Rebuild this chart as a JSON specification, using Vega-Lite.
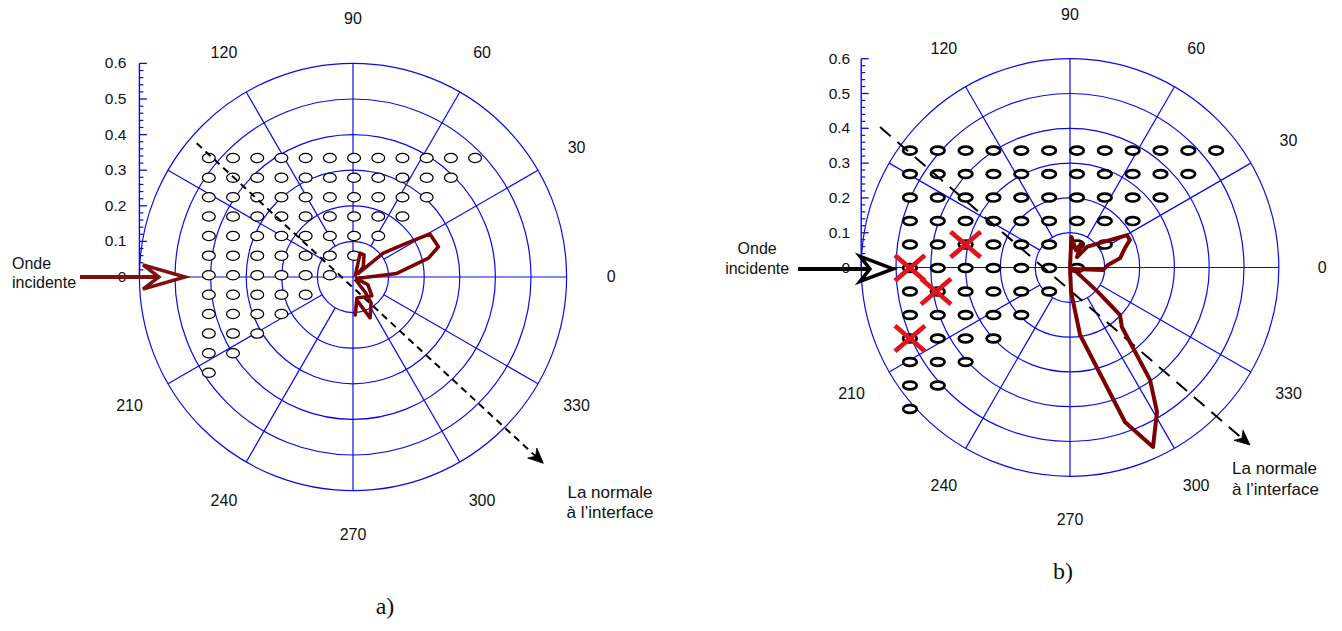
{
  "$schema": "https://vega.github.io/schema/vega-lite/v6.json",
  "padding": 0,
  "spacing": 0,
  "config": {"view": {"stroke": null}},
  "resolve": {"scale": {"radius": "independent"}},
  "hconcat": [
    {
      "width": 671,
      "height": 631,
      "encoding": {
        "x": {"field": "x", "type": "quantitative", "scale": {"domain": [-0.9916, 0.8933], "nice": false, "zero": false}, "axis": null},
        "y": {"field": "y", "type": "quantitative", "scale": {"domain": [-0.9944, 0.7781], "nice": false, "zero": false}, "axis": null}
      },
      "layer": [
        {
          "data": {"values": [{"x": 0, "y": 0, "r": 0.1}, {"x": 0, "y": 0, "r": 0.2}, {"x": 0, "y": 0, "r": 0.3}, {"x": 0, "y": 0, "r": 0.4}, {"x": 0, "y": 0, "r": 0.5}, {"x": 0, "y": 0, "r": 0.6}]},
          "mark": {"type": "arc", "theta": 0, "theta2": 6.2832, "filled": false, "color": "#0a0ae6", "strokeWidth": 1.2},
          "encoding": {"radius": {"field": "r", "type": "quantitative", "stack": null, "scale": {"type": "linear", "domain": [0, 1], "range": [0, 356], "zero": true}}}
        },
        {
          "data": {"values": [
            {"x": -0.6, "y": 0, "x2": 0.6, "y2": 0},
            {"x": 0, "y": -0.6, "x2": 0, "y2": 0.6},
            {"x": 0.0866, "y": 0.05, "x2": 0.5196, "y2": 0.3},
            {"x": 0.05, "y": 0.0866, "x2": 0.3, "y2": 0.5196},
            {"x": -0.05, "y": 0.0866, "x2": -0.3, "y2": 0.5196},
            {"x": -0.0866, "y": 0.05, "x2": -0.5196, "y2": 0.3},
            {"x": -0.0866, "y": -0.05, "x2": -0.5196, "y2": -0.3},
            {"x": -0.05, "y": -0.0866, "x2": -0.3, "y2": -0.5196},
            {"x": 0.05, "y": -0.0866, "x2": 0.3, "y2": -0.5196},
            {"x": 0.0866, "y": -0.05, "x2": 0.5196, "y2": -0.3}
          ]},
          "mark": {"type": "rule", "color": "#0a0ae6", "strokeWidth": 1.2},
          "encoding": {"x2": {"field": "x2"}, "y2": {"field": "y2"}}
        },
        {
          "data": {"values": [{"x": -0.6, "y": 0, "y2": 0.6}]},
          "mark": {"type": "rule", "color": "#0a0ae6", "strokeWidth": 1.4},
          "encoding": {"y2": {"field": "y2"}}
        },
        {
          "data": {"values": [{"x": -0.6, "ys": [0, 0.1, 0.2, 0.3, 0.4, 0.5, 0.6]}]},
          "transform": [{"flatten": ["ys"], "as": ["y"]}],
          "mark": {"type": "point", "shape": "M 0 0 L 2 0", "size": 56, "filled": false, "color": "#0a0ae6", "strokeWidth": 1.3, "opacity": 1}
        },
        {
          "data": {"values": [{"x": -0.6, "ys": [0.02, 0.04, 0.06, 0.08, 0.12, 0.14, 0.16, 0.18, 0.22, 0.24, 0.26, 0.28, 0.32, 0.34, 0.36, 0.38, 0.42, 0.44, 0.46, 0.48, 0.52, 0.54, 0.56, 0.58]}]},
          "transform": [{"flatten": ["ys"], "as": ["y"]}],
          "mark": {"type": "point", "shape": "M 0 0 L 2 0", "size": 16, "filled": false, "color": "#0a0ae6", "strokeWidth": 1.2, "opacity": 1}
        },
        {
          "data": {"values": [
            {"x": -0.6, "y": 0, "t": "0"}, {"x": -0.6, "y": 0.1, "t": "0.1"}, {"x": -0.6, "y": 0.2, "t": "0.2"},
            {"x": -0.6, "y": 0.3, "t": "0.3"}, {"x": -0.6, "y": 0.4, "t": "0.4"}, {"x": -0.6, "y": 0.5, "t": "0.5"}, {"x": -0.6, "y": 0.6, "t": "0.6"}
          ]},
          "mark": {"type": "text", "font": "Liberation Sans", "fontSize": 15.5, "color": "#111111", "align": "right", "baseline": "middle", "dx": -13},
          "encoding": {"text": {"field": "t"}}
        },
        {
          "data": {"values": [
            {"x": 0.725, "y": 0, "t": "0"}, {"x": 0.6279, "y": 0.3625, "t": "30"}, {"x": 0.3625, "y": 0.6279, "t": "60"},
            {"x": 0, "y": 0.725, "t": "90"}, {"x": -0.3625, "y": 0.6279, "t": "120"}, {"x": -0.6279, "y": -0.3625, "t": "210"},
            {"x": -0.3625, "y": -0.6279, "t": "240"}, {"x": 0, "y": -0.725, "t": "270"}, {"x": 0.3625, "y": -0.6279, "t": "300"},
            {"x": 0.6279, "y": -0.3625, "t": "330"}
          ]},
          "mark": {"type": "text", "font": "Liberation Sans", "fontSize": 16, "color": "#111111", "align": "center", "baseline": "middle"},
          "encoding": {"text": {"field": "t"}}
        },
        {
          "data": {"values": [
            {"y": 0.334, "xs": [-0.405, -0.337, -0.269, -0.201, -0.133, -0.065, 0.003, 0.071, 0.139, 0.207, 0.275, 0.343]},
            {"y": 0.279, "xs": [-0.405, -0.337, -0.269, -0.201, -0.133, -0.065, 0.003, 0.071, 0.139, 0.207, 0.275]},
            {"y": 0.224, "xs": [-0.405, -0.337, -0.269, -0.201, -0.133, -0.065, 0.003, 0.071, 0.139, 0.207]},
            {"y": 0.170, "xs": [-0.405, -0.337, -0.269, -0.201, -0.133, -0.065, 0.003, 0.071, 0.139]},
            {"y": 0.115, "xs": [-0.405, -0.337, -0.269, -0.201, -0.133, -0.065, 0.003, 0.071]},
            {"y": 0.060, "xs": [-0.405, -0.337, -0.269, -0.201, -0.133, -0.065, 0.003]},
            {"y": 0.005, "xs": [-0.405, -0.337, -0.269, -0.201, -0.133, -0.065]},
            {"y": -0.050, "xs": [-0.405, -0.337, -0.269, -0.201, -0.133]},
            {"y": -0.104, "xs": [-0.405, -0.337, -0.269, -0.201]},
            {"y": -0.159, "xs": [-0.405, -0.337, -0.269]},
            {"y": -0.214, "xs": [-0.405, -0.337]},
            {"y": -0.269, "xs": [-0.405]}
          ]},
          "transform": [{"flatten": ["xs"], "as": ["x"]}],
          "mark": {"type": "point", "shape": "M -1 0 A 1 0.72 0 1 0 1 0 A 1 0.72 0 1 0 -1 0 Z", "size": 165, "filled": true, "fill": "white", "stroke": "black", "strokeWidth": 1.25, "opacity": 1}
        },
        {
          "data": {"values": [{"x": -0.439, "y": 0.3756, "i": 0}, {"x": 0.53, "y": -0.519, "i": 1}]},
          "mark": {"type": "line", "color": "black", "strokeWidth": 2, "strokeDash": [7, 5]},
          "encoding": {"order": {"field": "i"}}
        },
        {
          "data": {"values": [{"x": 0.5346, "y": -0.5233}]},
          "mark": {"type": "point", "shape": "M 0 0 L -1 -0.45 L -0.7 0 L -1 0.45 Z", "size": 900, "angle": 42.7, "filled": true, "fill": "black", "stroke": "black", "strokeWidth": 0.8, "opacity": 1}
        },
        {
          "data": {"values": [
            {"i": 0, "x": 0.006, "y": 0.001}, {"i": 1, "x": 0.020, "y": 0.067}, {"i": 2, "x": 0.031, "y": 0.062},
            {"i": 3, "x": 0.029, "y": 0.029}, {"i": 4, "x": 0.015, "y": 0.010}, {"i": 5, "x": 0.085, "y": 0.067},
            {"i": 6, "x": 0.151, "y": 0.095}, {"i": 7, "x": 0.216, "y": 0.121}, {"i": 8, "x": 0.240, "y": 0.085},
            {"i": 9, "x": 0.212, "y": 0.053}, {"i": 10, "x": 0.123, "y": 0.010}, {"i": 11, "x": 0.010, "y": -0.004},
            {"i": 12, "x": 0.042, "y": -0.022}, {"i": 13, "x": 0.053, "y": -0.053}, {"i": 14, "x": 0.011, "y": -0.059},
            {"i": 15, "x": 0.006, "y": -0.107}, {"i": 16, "x": 0.011, "y": -0.065}, {"i": 17, "x": 0.048, "y": -0.115},
            {"i": 18, "x": 0.051, "y": -0.073}, {"i": 19, "x": 0.034, "y": -0.042}, {"i": 20, "x": 0.006, "y": -0.006}
          ]},
          "mark": {"type": "line", "color": "#7b0000", "strokeWidth": 3.5, "strokeJoin": "round"},
          "encoding": {"order": {"field": "i"}}
        },
        {
          "data": {"values": [{"x": -0.767, "y": 0, "i": 0}, {"x": -0.55, "y": 0, "i": 1}]},
          "mark": {"type": "line", "color": "#801010", "strokeWidth": 4},
          "encoding": {"order": {"field": "i"}}
        },
        {
          "data": {"values": [{"x": -0.472, "y": 0}]},
          "mark": {"type": "point", "shape": "M 0 0 L -1 -0.29 L -0.62 0 L -1 0.29 Z", "size": 7056, "filled": true, "fill": "white", "stroke": "#801010", "strokeWidth": 3.5, "strokeJoin": "miter", "opacity": 1}
        },
        {
          "data": {"values": [{"x": -0.9579, "y": 0.0365, "t": "Onde"}, {"x": -0.9579, "y": -0.0169, "t": "incidente"}]},
          "mark": {"type": "text", "font": "Liberation Sans", "fontSize": 16, "color": "#111111", "align": "left", "baseline": "middle"},
          "encoding": {"text": {"field": "t"}}
        },
        {
          "data": {"values": [{"x": 0.7219, "y": -0.6059, "t": "La normale"}, {"x": 0.7219, "y": -0.6629, "t": "à l’interface"}]},
          "mark": {"type": "text", "font": "Liberation Sans", "fontSize": 17, "color": "#111111", "align": "center", "baseline": "middle"},
          "encoding": {"text": {"field": "t"}}
        },
        {
          "data": {"values": [{"x": 0.0899, "y": -0.927, "t": "a)"}]},
          "mark": {"type": "text", "font": "Liberation Serif", "fontSize": 24, "color": "#111111", "align": "center", "baseline": "middle"},
          "encoding": {"text": {"field": "t"}}
        }
      ]
    },
    {
      "width": 671,
      "height": 631,
      "encoding": {
        "x": {"field": "x", "type": "quantitative", "scale": {"domain": [-1.1466, 0.7816], "nice": false, "zero": false}, "axis": null},
        "y": {"field": "y", "type": "quantitative", "scale": {"domain": [-1.0445, 0.7687], "nice": false, "zero": false}, "axis": null}
      },
      "layer": [
        {
          "data": {"values": [{"x": 0, "y": 0, "r": 0.1}, {"x": 0, "y": 0, "r": 0.2}, {"x": 0, "y": 0, "r": 0.3}, {"x": 0, "y": 0, "r": 0.4}, {"x": 0, "y": 0, "r": 0.5}, {"x": 0, "y": 0, "r": 0.6}]},
          "mark": {"type": "arc", "theta": 0, "theta2": 6.2832, "filled": false, "color": "#0a0ae6", "strokeWidth": 1.2},
          "encoding": {"radius": {"field": "r", "type": "quantitative", "stack": null, "scale": {"type": "linear", "domain": [0, 1], "range": [0, 348], "zero": true}}}
        },
        {
          "data": {"values": [
            {"x": -0.6, "y": 0, "x2": 0.6, "y2": 0},
            {"x": 0, "y": -0.6, "x2": 0, "y2": 0.6},
            {"x": 0.0866, "y": 0.05, "x2": 0.5196, "y2": 0.3},
            {"x": 0.05, "y": 0.0866, "x2": 0.3, "y2": 0.5196},
            {"x": -0.05, "y": 0.0866, "x2": -0.3, "y2": 0.5196},
            {"x": -0.0866, "y": 0.05, "x2": -0.5196, "y2": 0.3},
            {"x": -0.0866, "y": -0.05, "x2": -0.5196, "y2": -0.3},
            {"x": -0.05, "y": -0.0866, "x2": -0.3, "y2": -0.5196},
            {"x": 0.05, "y": -0.0866, "x2": 0.3, "y2": -0.5196},
            {"x": 0.0866, "y": -0.05, "x2": 0.5196, "y2": -0.3}
          ]},
          "mark": {"type": "rule", "color": "#0a0ae6", "strokeWidth": 1.2},
          "encoding": {"x2": {"field": "x2"}, "y2": {"field": "y2"}}
        },
        {
          "data": {"values": [{"x": -0.6, "y": 0, "y2": 0.6}]},
          "mark": {"type": "rule", "color": "#0a0ae6", "strokeWidth": 1.4},
          "encoding": {"y2": {"field": "y2"}}
        },
        {
          "data": {"values": [{"x": -0.6, "ys": [0, 0.1, 0.2, 0.3, 0.4, 0.5, 0.6]}]},
          "transform": [{"flatten": ["ys"], "as": ["y"]}],
          "mark": {"type": "point", "shape": "M 0 0 L 2 0", "size": 56, "filled": false, "color": "#0a0ae6", "strokeWidth": 1.3, "opacity": 1}
        },
        {
          "data": {"values": [{"x": -0.6, "ys": [0.02, 0.04, 0.06, 0.08, 0.12, 0.14, 0.16, 0.18, 0.22, 0.24, 0.26, 0.28, 0.32, 0.34, 0.36, 0.38, 0.42, 0.44, 0.46, 0.48, 0.52, 0.54, 0.56, 0.58]}]},
          "transform": [{"flatten": ["ys"], "as": ["y"]}],
          "mark": {"type": "point", "shape": "M 0 0 L 2 0", "size": 16, "filled": false, "color": "#0a0ae6", "strokeWidth": 1.2, "opacity": 1}
        },
        {
          "data": {"values": [
            {"x": -0.6, "y": 0, "t": "0"}, {"x": -0.6, "y": 0.1, "t": "0.1"}, {"x": -0.6, "y": 0.2, "t": "0.2"},
            {"x": -0.6, "y": 0.3, "t": "0.3"}, {"x": -0.6, "y": 0.4, "t": "0.4"}, {"x": -0.6, "y": 0.5, "t": "0.5"}, {"x": -0.6, "y": 0.6, "t": "0.6"}
          ]},
          "mark": {"type": "text", "font": "Liberation Sans", "fontSize": 15.5, "color": "#111111", "align": "right", "baseline": "middle", "dx": -11},
          "encoding": {"text": {"field": "t"}}
        },
        {
          "data": {"values": [
            {"x": 0.725, "y": 0, "t": "0"}, {"x": 0.6279, "y": 0.3625, "t": "30"}, {"x": 0.3625, "y": 0.6279, "t": "60"},
            {"x": 0, "y": 0.725, "t": "90"}, {"x": -0.3625, "y": 0.6279, "t": "120"}, {"x": -0.6279, "y": -0.3625, "t": "210"},
            {"x": -0.3625, "y": -0.6279, "t": "240"}, {"x": 0, "y": -0.725, "t": "270"}, {"x": 0.3625, "y": -0.6279, "t": "300"},
            {"x": 0.6279, "y": -0.3625, "t": "330"}
          ]},
          "mark": {"type": "text", "font": "Liberation Sans", "fontSize": 16, "color": "#111111", "align": "center", "baseline": "middle"},
          "encoding": {"text": {"field": "t"}}
        },
        {
          "data": {"values": [
            {"y": 0.336, "xs": [-0.46, -0.38, -0.30, -0.22, -0.14, -0.06, 0.02, 0.10, 0.18, 0.26, 0.34, 0.42]},
            {"y": 0.2685, "xs": [-0.46, -0.38, -0.30, -0.22, -0.14, -0.06, 0.02, 0.10, 0.18, 0.26, 0.34]},
            {"y": 0.201, "xs": [-0.46, -0.38, -0.30, -0.22, -0.14, -0.06, 0.02, 0.10, 0.18, 0.26]},
            {"y": 0.1335, "xs": [-0.46, -0.38, -0.30, -0.22, -0.14, -0.06, 0.02, 0.10, 0.18]},
            {"y": 0.066, "xs": [-0.46, -0.38, -0.30, -0.22, -0.14, -0.06, 0.02, 0.10]},
            {"y": -0.0015, "xs": [-0.46, -0.38, -0.30, -0.22, -0.14, -0.06, 0.02]},
            {"y": -0.069, "xs": [-0.46, -0.38, -0.30, -0.22, -0.14, -0.06]},
            {"y": -0.1365, "xs": [-0.46, -0.38, -0.30, -0.22, -0.14]},
            {"y": -0.204, "xs": [-0.46, -0.38, -0.30, -0.22]},
            {"y": -0.2715, "xs": [-0.46, -0.38, -0.30]},
            {"y": -0.339, "xs": [-0.46, -0.38]},
            {"y": -0.4065, "xs": [-0.46]}
          ]},
          "transform": [{"flatten": ["xs"], "as": ["x"]}],
          "mark": {"type": "point", "shape": "M -1 0 A 1 0.58 0 1 0 1 0 A 1 0.58 0 1 0 -1 0 Z", "size": 185, "filled": true, "fill": "white", "stroke": "black", "strokeWidth": 2.7, "opacity": 1}
        },
        {
          "data": {"values": [{"x": -0.546, "y": 0.4037, "i": 0}, {"x": 0.512, "y": -0.506, "i": 1}]},
          "mark": {"type": "line", "color": "black", "strokeWidth": 2, "strokeDash": [14, 9]},
          "encoding": {"order": {"field": "i"}}
        },
        {
          "data": {"values": [{"x": 0.5172, "y": -0.5101}]},
          "mark": {"type": "point", "shape": "M 0 0 L -1 -0.45 L -0.7 0 L -1 0.45 Z", "size": 900, "angle": 40.7, "filled": true, "fill": "black", "stroke": "black", "strokeWidth": 0.8, "opacity": 1}
        },
        {
          "data": {"values": [
            {"i": 0, "x": 0, "y": 0}, {"i": 1, "x": 0.004, "y": 0.088}, {"i": 2, "x": 0.017, "y": 0.05},
            {"i": 3, "x": 0.033, "y": 0.07}, {"i": 4, "x": 0.02, "y": 0.03}, {"i": 5, "x": 0.05, "y": 0.06},
            {"i": 6, "x": 0.164, "y": 0.093}, {"i": 7, "x": 0.172, "y": 0.079}, {"i": 8, "x": 0.158, "y": 0.056},
            {"i": 9, "x": 0.144, "y": 0.027}, {"i": 10, "x": 0.109, "y": 0.007}, {"i": 11, "x": 0.095, "y": -0.007},
            {"i": 12, "x": 0.009, "y": -0.004}, {"i": 13, "x": 0.080, "y": -0.070}, {"i": 14, "x": 0.144, "y": -0.137},
            {"i": 15, "x": 0.149, "y": -0.171}, {"i": 16, "x": 0.230, "y": -0.323}, {"i": 17, "x": 0.250, "y": -0.415},
            {"i": 18, "x": 0.2385, "y": -0.516}, {"i": 19, "x": 0.158, "y": -0.444}, {"i": 20, "x": 0.029, "y": -0.194},
            {"i": 21, "x": 0.003, "y": -0.070}, {"i": 22, "x": 0, "y": 0}
          ]},
          "mark": {"type": "line", "color": "#7b0000", "strokeWidth": 4, "strokeJoin": "round"},
          "encoding": {"order": {"field": "i"}}
        },
        {
          "data": {"values": [
            {"x": -0.46, "y": -0.0015}, {"x": -0.30, "y": 0.066}, {"x": -0.385, "y": -0.069}, {"x": -0.46, "y": -0.204}
          ]},
          "mark": {"type": "point", "shape": "M -1 -0.85 L 1 0.85 M -1 0.85 L 1 -0.85", "size": 900, "filled": false, "color": "#e0141b", "strokeWidth": 4.8, "opacity": 1}
        },
        {
          "data": {"values": [{"x": -0.7816, "y": -0.004, "i": 0}, {"x": -0.58, "y": -0.004, "i": 1}]},
          "mark": {"type": "line", "color": "black", "strokeWidth": 4},
          "encoding": {"order": {"field": "i"}}
        },
        {
          "data": {"values": [{"x": -0.5086, "y": -0.004}]},
          "mark": {"type": "point", "shape": "M 0 0 L -1 -0.38 L -0.7 0 L -1 0.38 Z", "size": 4356, "filled": true, "fill": "white", "stroke": "black", "strokeWidth": 3.5, "strokeJoin": "miter", "opacity": 1}
        },
        {
          "data": {"values": [{"x": -0.899, "y": 0.053, "t": "Onde"}, {"x": -0.899, "y": -0.004, "t": "incidente"}]},
          "mark": {"type": "text", "font": "Liberation Sans", "fontSize": 16, "color": "#111111", "align": "center", "baseline": "middle"},
          "encoding": {"text": {"field": "t"}}
        },
        {
          "data": {"values": [{"x": 0.4655, "y": -0.5799, "t": "La normale"}, {"x": 0.4655, "y": -0.6394, "t": "à l’interface"}]},
          "mark": {"type": "text", "font": "Liberation Sans", "fontSize": 17, "color": "#111111", "align": "left", "baseline": "middle"},
          "encoding": {"text": {"field": "t"}}
        },
        {
          "data": {"values": [{"x": -0.02, "y": -0.875, "t": "b)"}]},
          "mark": {"type": "text", "font": "Liberation Serif", "fontSize": 24, "color": "#111111", "align": "center", "baseline": "middle"},
          "encoding": {"text": {"field": "t"}}
        }
      ]
    }
  ]
}
